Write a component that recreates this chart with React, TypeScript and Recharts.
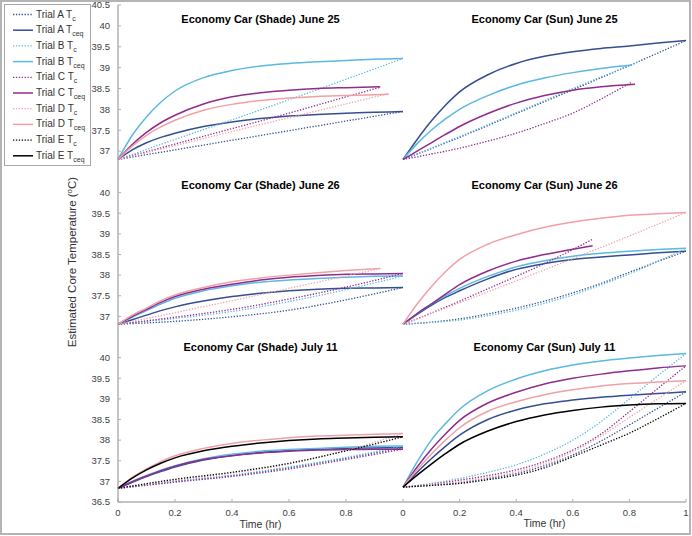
import React from "react";
import { LineChart, Line, XAxis, YAxis } from "recharts";

type Pt = [number, number];

const trials = ["A", "B", "C", "D", "E"];
const trialColors = ["#344e91", "#5bb8e0", "#8f2c8d", "#f0a0a6", "#000000"];
const xTicks = [0, 0.2, 0.4, 0.6, 0.8, 1];
const yTicks = [36.5, 37, 37.5, 38, 38.5, 39, 39.5, 40, 40.5];

// Economy Car (Shade) June 25
const sh25_Ac: Pt[] = [[0, 36.8], [0.2, 37.03], [0.4, 37.26], [0.6, 37.49], [0.8, 37.72], [1, 37.95]];
const sh25_Aceq: Pt[] = [[0, 36.8], [0.05, 37.03], [0.1, 37.2], [0.15, 37.33], [0.2, 37.43], [0.3, 37.59], [0.4, 37.7], [0.5, 37.78], [0.6, 37.84], [0.7, 37.88], [0.8, 37.91], [0.9, 37.93], [1, 37.95]];
const sh25_Bc: Pt[] = [[0, 36.8], [0.2, 37.28], [0.4, 37.75], [0.6, 38.23], [0.8, 38.72], [1, 39.22]];
const sh25_Bceq: Pt[] = [[0, 36.8], [0.05, 37.38], [0.1, 37.82], [0.15, 38.17], [0.2, 38.44], [0.3, 38.76], [0.4, 38.93], [0.5, 39.04], [0.6, 39.1], [0.7, 39.14], [0.8, 39.17], [0.9, 39.2], [1, 39.22]];
const sh25_Cc: Pt[] = [[0, 36.8], [0.2, 37.17], [0.4, 37.54], [0.6, 37.91], [0.8, 38.3], [0.92, 38.53]];
const sh25_Cceq: Pt[] = [[0, 36.8], [0.05, 37.16], [0.1, 37.45], [0.15, 37.68], [0.2, 37.86], [0.3, 38.13], [0.4, 38.3], [0.5, 38.4], [0.6, 38.46], [0.7, 38.5], [0.8, 38.52], [0.92, 38.54]];
const sh25_Dc: Pt[] = [[0, 36.8], [0.2, 37.13], [0.4, 37.47], [0.6, 37.8], [0.8, 38.13], [0.95, 38.38]];
const sh25_Dceq: Pt[] = [[0, 36.8], [0.05, 37.12], [0.1, 37.38], [0.15, 37.58], [0.2, 37.74], [0.3, 37.98], [0.4, 38.12], [0.5, 38.21], [0.6, 38.27], [0.7, 38.31], [0.8, 38.33], [0.95, 38.36]];

// Economy Car (Sun) June 25
const sun25_Ac: Pt[] = [[0, 36.8], [0.2, 37.33], [0.4, 37.9], [0.6, 38.47], [0.8, 39.05], [1, 39.65]];
const sun25_Aceq: Pt[] = [[0, 36.8], [0.05, 37.28], [0.1, 37.72], [0.15, 38.1], [0.2, 38.42], [0.3, 38.83], [0.4, 39.1], [0.5, 39.27], [0.6, 39.38], [0.7, 39.46], [0.8, 39.52], [0.9, 39.59], [1, 39.65]];
const sun25_Bc: Pt[] = [[0, 36.8], [0.2, 37.35], [0.4, 37.92], [0.6, 38.5], [0.83, 39.13]];
const sun25_Bceq: Pt[] = [[0, 36.8], [0.05, 37.18], [0.1, 37.5], [0.15, 37.77], [0.2, 38.0], [0.3, 38.33], [0.4, 38.58], [0.5, 38.75], [0.6, 38.88], [0.7, 38.98], [0.81, 39.06]];
const sun25_Cc: Pt[] = [[0, 36.8], [0.1, 36.93], [0.2, 37.07], [0.3, 37.24], [0.4, 37.43], [0.5, 37.66], [0.6, 37.91], [0.7, 38.25], [0.81, 38.66]];
const sun25_Cceq: Pt[] = [[0, 36.8], [0.05, 37.0], [0.1, 37.2], [0.15, 37.4], [0.2, 37.59], [0.3, 37.9], [0.4, 38.15], [0.5, 38.33], [0.6, 38.46], [0.7, 38.54], [0.82, 38.6]];

// Economy Car (Shade) June 26
const sh26_Ac: Pt[] = [[0, 36.81], [0.2, 36.88], [0.4, 36.99], [0.6, 37.15], [0.8, 37.4], [1, 37.7]];
const sh26_Aceq: Pt[] = [[0, 36.81], [0.05, 36.92], [0.1, 37.03], [0.15, 37.14], [0.2, 37.23], [0.3, 37.37], [0.4, 37.48], [0.5, 37.56], [0.6, 37.62], [0.7, 37.66], [0.8, 37.68], [0.9, 37.69], [1, 37.7]];
const sh26_Bc: Pt[] = [[0, 36.81], [0.2, 36.95], [0.4, 37.12], [0.6, 37.36], [0.8, 37.65], [1, 37.98]];
const sh26_Bceq: Pt[] = [[0, 36.81], [0.05, 36.98], [0.1, 37.14], [0.15, 37.3], [0.2, 37.44], [0.3, 37.62], [0.4, 37.74], [0.5, 37.83], [0.6, 37.88], [0.7, 37.92], [0.8, 37.95], [0.9, 37.97], [1, 37.98]];
const sh26_Cc: Pt[] = [[0, 36.81], [0.2, 36.98], [0.4, 37.17], [0.6, 37.42], [0.8, 37.71], [1, 38.04]];
const sh26_Cceq: Pt[] = [[0, 36.81], [0.05, 37.0], [0.1, 37.17], [0.15, 37.34], [0.2, 37.48], [0.3, 37.66], [0.4, 37.78], [0.5, 37.88], [0.6, 37.95], [0.7, 37.99], [0.8, 38.02], [0.9, 38.03], [1, 38.04]];
const sh26_Dc: Pt[] = [[0, 36.81], [0.2, 37.09], [0.4, 37.38], [0.6, 37.68], [0.8, 37.98], [0.92, 38.16]];
const sh26_Dceq: Pt[] = [[0, 36.81], [0.05, 37.03], [0.1, 37.2], [0.15, 37.38], [0.2, 37.52], [0.3, 37.7], [0.4, 37.84], [0.5, 37.93], [0.6, 38.0], [0.7, 38.06], [0.8, 38.11], [0.92, 38.16]];

// Economy Car (Sun) June 26
const sun26_Ac: Pt[] = [[0, 36.81], [0.1, 36.86], [0.2, 36.94], [0.3, 37.06], [0.4, 37.2], [0.5, 37.37], [0.6, 37.57], [0.7, 37.8], [0.8, 38.07], [0.9, 38.33], [1, 38.58]];
const sun26_Aceq: Pt[] = [[0, 36.81], [0.05, 37.05], [0.1, 37.27], [0.15, 37.46], [0.2, 37.62], [0.3, 37.91], [0.4, 38.14], [0.5, 38.28], [0.6, 38.38], [0.7, 38.44], [0.8, 38.49], [0.9, 38.54], [1, 38.58]];
const sun26_Bc: Pt[] = [[0, 36.81], [0.1, 36.85], [0.2, 36.91], [0.3, 37.02], [0.4, 37.15], [0.5, 37.32], [0.6, 37.52], [0.7, 37.76], [0.8, 38.03], [0.9, 38.33], [1, 38.65]];
const sun26_Bceq: Pt[] = [[0, 36.81], [0.05, 37.07], [0.1, 37.3], [0.15, 37.5], [0.2, 37.68], [0.3, 37.97], [0.4, 38.2], [0.5, 38.35], [0.6, 38.46], [0.7, 38.53], [0.8, 38.58], [0.9, 38.62], [1, 38.65]];
const sun26_Cc: Pt[] = [[0, 36.81], [0.1, 37.08], [0.2, 37.37], [0.3, 37.67], [0.4, 37.97], [0.5, 38.28], [0.6, 38.62], [0.67, 38.87]];
const sun26_Cceq: Pt[] = [[0, 36.81], [0.05, 37.07], [0.1, 37.3], [0.15, 37.54], [0.2, 37.77], [0.3, 38.1], [0.4, 38.34], [0.5, 38.5], [0.6, 38.63], [0.67, 38.71]];
const sun26_Dc: Pt[] = [[0, 36.81], [0.2, 37.33], [0.4, 37.86], [0.6, 38.4], [0.8, 38.95], [1, 39.52]];
const sun26_Dceq: Pt[] = [[0, 36.81], [0.05, 37.3], [0.1, 37.72], [0.15, 38.08], [0.2, 38.38], [0.3, 38.75], [0.4, 38.98], [0.5, 39.16], [0.6, 39.29], [0.7, 39.38], [0.8, 39.45], [0.9, 39.49], [1, 39.52]];

// Economy Car (Shade) July 11
const sh11_Ac: Pt[] = [[0, 36.83], [0.2, 37.0], [0.4, 37.14], [0.6, 37.33], [0.8, 37.56], [1, 37.82]];
const sh11_Aceq: Pt[] = [[0, 36.83], [0.05, 36.98], [0.1, 37.12], [0.15, 37.24], [0.2, 37.35], [0.3, 37.52], [0.4, 37.63], [0.5, 37.7], [0.6, 37.75], [0.7, 37.78], [0.8, 37.8], [0.9, 37.81], [1, 37.82]];
const sh11_Bc: Pt[] = [[0, 36.83], [0.2, 37.0], [0.4, 37.15], [0.6, 37.35], [0.8, 37.58], [1, 37.86]];
const sh11_Bceq: Pt[] = [[0, 36.83], [0.05, 37.0], [0.1, 37.14], [0.15, 37.27], [0.2, 37.38], [0.3, 37.55], [0.4, 37.66], [0.5, 37.73], [0.6, 37.77], [0.7, 37.8], [0.8, 37.83], [0.9, 37.85], [1, 37.86]];
const sh11_Cc: Pt[] = [[0, 36.83], [0.2, 36.98], [0.4, 37.12], [0.6, 37.3], [0.8, 37.53], [1, 37.78]];
const sh11_Cceq: Pt[] = [[0, 36.83], [0.05, 36.99], [0.1, 37.13], [0.15, 37.26], [0.2, 37.37], [0.3, 37.53], [0.4, 37.62], [0.5, 37.69], [0.6, 37.73], [0.7, 37.76], [0.8, 37.77], [0.9, 37.78], [1, 37.78]];
const sh11_Dc: Pt[] = [[0, 36.83], [0.2, 37.03], [0.4, 37.2], [0.6, 37.42], [0.8, 37.75], [1, 38.16]];
const sh11_Dceq: Pt[] = [[0, 36.83], [0.05, 37.1], [0.1, 37.3], [0.15, 37.48], [0.2, 37.62], [0.3, 37.8], [0.4, 37.92], [0.5, 38.0], [0.6, 38.06], [0.7, 38.1], [0.8, 38.12], [0.9, 38.14], [1, 38.16]];
const sh11_Ec: Pt[] = [[0, 36.83], [0.2, 37.05], [0.4, 37.22], [0.6, 37.44], [0.8, 37.74], [1, 38.08]];
const sh11_Eceq: Pt[] = [[0, 36.83], [0.05, 37.08], [0.1, 37.28], [0.15, 37.44], [0.2, 37.57], [0.3, 37.74], [0.4, 37.85], [0.5, 37.93], [0.6, 37.99], [0.7, 38.03], [0.8, 38.05], [0.9, 38.07], [1, 38.08]];

// Economy Car (Sun) July 11
const sun11_Ac: Pt[] = [[0, 36.86], [0.1, 36.91], [0.2, 36.97], [0.3, 37.07], [0.4, 37.19], [0.5, 37.38], [0.6, 37.64], [0.7, 37.98], [0.8, 38.37], [0.9, 38.77], [1, 39.17]];
const sun11_Aceq: Pt[] = [[0, 36.86], [0.05, 37.22], [0.1, 37.55], [0.15, 37.85], [0.2, 38.12], [0.3, 38.5], [0.4, 38.73], [0.5, 38.88], [0.6, 38.97], [0.7, 39.04], [0.8, 39.09], [0.9, 39.13], [1, 39.17]];
const sun11_Bc: Pt[] = [[0, 36.86], [0.1, 36.95], [0.2, 37.07], [0.3, 37.22], [0.4, 37.4], [0.5, 37.66], [0.6, 38.0], [0.7, 38.45], [0.8, 39.0], [0.9, 39.56], [1, 40.1]];
const sun11_Bceq: Pt[] = [[0, 36.86], [0.05, 37.47], [0.1, 38.0], [0.15, 38.4], [0.2, 38.75], [0.3, 39.2], [0.4, 39.48], [0.5, 39.68], [0.6, 39.82], [0.7, 39.92], [0.8, 39.99], [0.9, 40.05], [1, 40.1]];
const sun11_Cc: Pt[] = [[0, 36.86], [0.1, 36.93], [0.2, 37.03], [0.3, 37.14], [0.4, 37.28], [0.5, 37.48], [0.6, 37.76], [0.7, 38.15], [0.8, 38.69], [0.9, 39.25], [1, 39.8]];
const sun11_Cceq: Pt[] = [[0, 36.86], [0.05, 37.35], [0.1, 37.78], [0.15, 38.15], [0.2, 38.48], [0.3, 38.9], [0.4, 39.16], [0.5, 39.36], [0.6, 39.5], [0.7, 39.6], [0.8, 39.68], [0.9, 39.75], [1, 39.8]];
const sun11_Dc: Pt[] = [[0, 36.86], [0.1, 36.92], [0.2, 36.99], [0.3, 37.1], [0.4, 37.23], [0.5, 37.43], [0.6, 37.72], [0.7, 38.1], [0.8, 38.55], [0.9, 39.0], [1, 39.44]];
const sun11_Dceq: Pt[] = [[0, 36.86], [0.05, 37.28], [0.1, 37.66], [0.15, 38.0], [0.2, 38.3], [0.3, 38.7], [0.4, 38.93], [0.5, 39.1], [0.6, 39.22], [0.7, 39.31], [0.8, 39.37], [0.9, 39.41], [1, 39.44]];
const sun11_Ec: Pt[] = [[0, 36.86], [0.1, 36.9], [0.2, 36.95], [0.3, 37.04], [0.4, 37.15], [0.5, 37.33], [0.6, 37.6], [0.7, 37.88], [0.8, 38.17], [0.9, 38.52], [1, 38.89]];
const sun11_Eceq: Pt[] = [[0, 36.86], [0.05, 37.15], [0.1, 37.42], [0.15, 37.67], [0.2, 37.9], [0.3, 38.22], [0.4, 38.45], [0.5, 38.61], [0.6, 38.72], [0.7, 38.8], [0.8, 38.85], [0.9, 38.88], [1, 38.89]];

type Series = { trial: number; kind: "c" | "ceq"; pts: Pt[] };
type PanelDef = { title: string; row: number; col: number; series: Series[] };

const s = (trial: number, kind: "c" | "ceq", pts: Pt[]): Series => ({ trial, kind, pts });

const panels: PanelDef[] = [
  {
    title: "Economy Car (Shade) June 25", row: 0, col: 0,
    series: [s(0, "c", sh25_Ac), s(0, "ceq", sh25_Aceq), s(1, "c", sh25_Bc), s(1, "ceq", sh25_Bceq),
      s(2, "c", sh25_Cc), s(2, "ceq", sh25_Cceq), s(3, "c", sh25_Dc), s(3, "ceq", sh25_Dceq)],
  },
  {
    title: "Economy Car (Sun) June 25", row: 0, col: 1,
    series: [s(0, "c", sun25_Ac), s(0, "ceq", sun25_Aceq), s(1, "c", sun25_Bc), s(1, "ceq", sun25_Bceq),
      s(2, "c", sun25_Cc), s(2, "ceq", sun25_Cceq)],
  },
  {
    title: "Economy Car (Shade) June 26", row: 1, col: 0,
    series: [s(0, "c", sh26_Ac), s(0, "ceq", sh26_Aceq), s(1, "c", sh26_Bc), s(1, "ceq", sh26_Bceq),
      s(2, "c", sh26_Cc), s(2, "ceq", sh26_Cceq), s(3, "c", sh26_Dc), s(3, "ceq", sh26_Dceq)],
  },
  {
    title: "Economy Car (Sun) June 26", row: 1, col: 1,
    series: [s(0, "c", sun26_Ac), s(0, "ceq", sun26_Aceq), s(1, "c", sun26_Bc), s(1, "ceq", sun26_Bceq),
      s(2, "c", sun26_Cc), s(2, "ceq", sun26_Cceq), s(3, "c", sun26_Dc), s(3, "ceq", sun26_Dceq)],
  },
  {
    title: "Economy Car (Shade) July 11", row: 2, col: 0,
    series: [s(0, "c", sh11_Ac), s(0, "ceq", sh11_Aceq), s(1, "c", sh11_Bc), s(1, "ceq", sh11_Bceq),
      s(2, "c", sh11_Cc), s(2, "ceq", sh11_Cceq), s(3, "c", sh11_Dc), s(3, "ceq", sh11_Dceq),
      s(4, "c", sh11_Ec), s(4, "ceq", sh11_Eceq)],
  },
  {
    title: "Economy Car (Sun) July 11", row: 2, col: 1,
    series: [s(0, "c", sun11_Ac), s(0, "ceq", sun11_Aceq), s(1, "c", sun11_Bc), s(1, "ceq", sun11_Bceq),
      s(2, "c", sun11_Cc), s(2, "ceq", sun11_Cceq), s(3, "c", sun11_Dc), s(3, "ceq", sun11_Dceq),
      s(4, "c", sun11_Ec), s(4, "ceq", sun11_Eceq)],
  },
];

const FONT = "'Liberation Sans', Arial, Helvetica, sans-serif";
const AXIS = "#8a8a8a";
const TICKC = "#b0b0b0";
const PAD = 8;
const colX = [118, 403];
const colW = [285, 283];
const rowY = [5, 172, 337];
const rowH = [167, 165, 165];
const titleY = [23, 189, 351];

function Panel({ p }: { p: PanelDef }) {
  const left = p.col === 0;
  const bottom = p.row === 2;
  const yW = left ? 40 : 0;
  const xH = bottom ? 34 : 0;
  const x0 = colX[p.col];
  const w = colW[p.col];
  const h = rowH[p.row];
  const leftTicks = p.row === 0 ? yTicks.slice(1) : p.row === 1 ? yTicks.slice(1, 8) : yTicks.slice(0, 8);
  const bottomTicks = left ? xTicks.slice(0, 5) : xTicks;
  const tickStyle = { fontSize: 9.5, fill: "#404040", fontFamily: FONT };
  return (
    <div style={{ position: "absolute", left: x0 - yW - PAD, top: rowY[p.row] - PAD }}>
      <LineChart width={yW + w + 2 * PAD} height={h + xH + 2 * PAD}
        margin={{ top: PAD, right: PAD, bottom: PAD, left: PAD }}>
        <XAxis xAxisId="b" type="number" dataKey="t" domain={[0, 1]} ticks={bottom ? bottomTicks : xTicks}
          interval={0} height={xH} stroke={AXIS} tickLine={{ stroke: TICKC }} tickSize={-3} tickMargin={10}
          tick={bottom ? tickStyle : false} axisLine={{ stroke: AXIS }} />
        <XAxis xAxisId="t" orientation="top" type="number" dataKey="t" domain={[0, 1]} ticks={xTicks}
          interval={0} height={0} tick={false} tickSize={-3} tickLine={{ stroke: TICKC }} axisLine={{ stroke: AXIS }} />
        <YAxis yAxisId="l" type="number" domain={[36.5, 40.5]} ticks={leftTicks} width={yW} interval={0}
          tick={left ? tickStyle : false} tickSize={-3} tickMargin={11} tickLine={{ stroke: TICKC }}
          axisLine={{ stroke: AXIS }} />
        <YAxis yAxisId="r" orientation="right" type="number" domain={[36.5, 40.5]} ticks={yTicks.slice(1, 8)}
          interval={0} width={0} tick={false} tickSize={-3} tickLine={{ stroke: TICKC }} axisLine={{ stroke: AXIS }} />
        {p.series.map((se, i) => (
          <Line key={i} xAxisId="b" yAxisId="l" data={se.pts.map(([t, v]) => ({ t, v }))} dataKey="v"
            type="monotone" stroke={trialColors[se.trial]} strokeWidth={se.kind === "ceq" ? 1.5 : 1.3}
            strokeDasharray={se.kind === "c" ? "1.3 1.6" : undefined} dot={false} activeDot={false}
            isAnimationActive={false} />
        ))}
      </LineChart>
    </div>
  );
}

export default function App() {
  return (
    <div style={{ position: "absolute", left: 0, top: 0, width: 692, height: 536, background: "#fff", fontFamily: FONT, overflow: "hidden" }}>
      {panels.map((p, i) => <Panel key={i} p={p} />)}
      <svg width={692} height={536} style={{ position: "absolute", left: 0, top: 0, pointerEvents: "none" }}>
        <rect x={1} y={1} width={689} height={533} fill="none" stroke="#b4b4b4" strokeWidth={2} />
        {panels.map((p, i) => (
          <text key={i} x={colX[p.col] + colW[p.col] / 2} y={titleY[p.row]} textAnchor="middle"
            fontSize={11} fontWeight="bold" fill="#000" fontFamily={FONT}>{p.title}</text>
        ))}
        <text x={colX[0] + colW[0] / 2} y={528} textAnchor="middle" fontSize={10.5} fill="#333" fontFamily={FONT}>Time (hr)</text>
        <text x={colX[1] + colW[1] / 2} y={527} textAnchor="middle" fontSize={10.5} fill="#333" fontFamily={FONT}>Time (hr)</text>
        <text transform="translate(76,262) rotate(-90)" textAnchor="middle" fontSize={11.5} fill="#333" fontFamily={FONT}>
          Estimated Core Temperature (<tspan fontSize={8} dy={-4}>o</tspan><tspan dy={4}>C)</tspan>
        </text>
        <rect x={4.5} y={4.5} width={86} height={161} fill="#fff" stroke="#a8a8a8" strokeWidth={1} />
        {trials.flatMap((tr, i) =>
          (["c", "ceq"] as const).map((k, j) => {
            const y = 14.5 + (i * 2 + j) * 15.7;
            return (
              <g key={tr + k}>
                <line x1={13} x2={33} y1={y} y2={y} stroke={trialColors[i]} strokeWidth={k === "ceq" ? 1.5 : 1.3}
                  strokeDasharray={k === "c" ? "1.3 1.6" : undefined} />
                <text x={36} y={y + 3} fontSize={10} fill="#333" fontFamily={FONT}>
                  {`Trial ${tr} T`}<tspan fontSize={7} dy={3}>{k}</tspan>
                </text>
              </g>
            );
          })
        )}
      </svg>
    </div>
  );
}
